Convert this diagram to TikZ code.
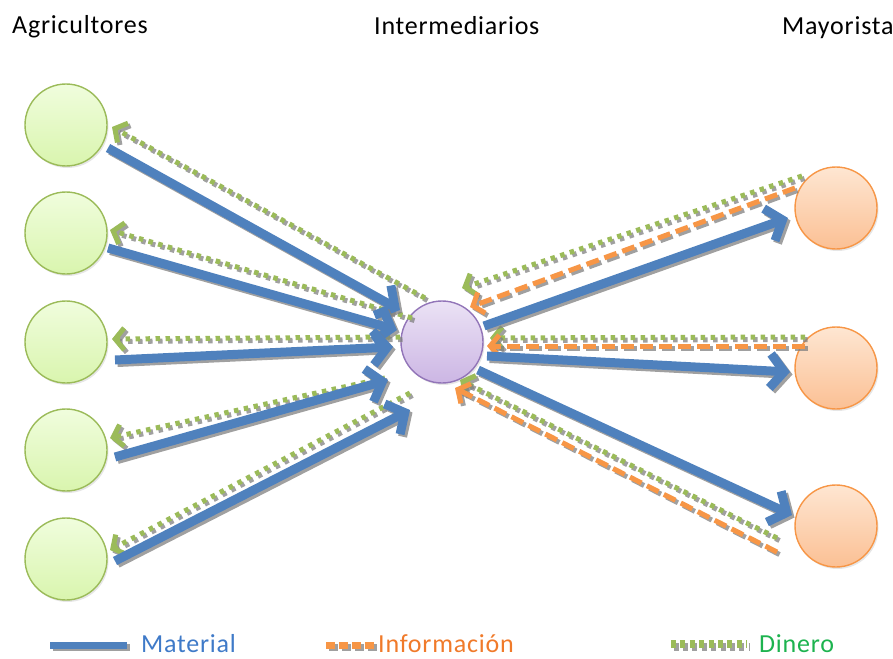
\documentclass[tikz,border=0pt]{standalone}
\usepackage{fontspec}
\setmainfont{Carlito}
\newfontfamily\labelfont{Carlito}[LetterSpace=3]
\usetikzlibrary{arrows.meta,calc,shadows}
\definecolor{matblue}{HTML}{4F81BD}
\definecolor{infoorange}{HTML}{F79646}
\definecolor{moneygreen}{HTML}{9BBB59}
\definecolor{moneytext}{HTML}{1DB34F}
\definecolor{infotext}{HTML}{F07A2A}
\definecolor{mattext}{HTML}{3F7AC8}
\definecolor{shadowgray}{HTML}{808080}
\definecolor{farmtop}{HTML}{F0FDDD}
\definecolor{farmbot}{HTML}{D9F5AE}
\definecolor{brokertop}{HTML}{EBE2F5}
\definecolor{brokerbot}{HTML}{CCB6E4}
\definecolor{brokerline}{HTML}{9275B8}
\definecolor{buyertop}{HTML}{FEE6D2}
\definecolor{buyerbot}{HTML}{FBC094}
% a flow line: grey offset copy first, then the coloured line
\newcommand\flowline[3]{%
  \begin{scope}[transform canvas={xshift=2.5pt,yshift=-2.5pt}]
    \draw[#1,draw=shadowgray,opacity=0.75] #2 -- #3;
  \end{scope}
  \draw[#1] #2 -- #3;}
\begin{document}
\begin{tikzpicture}[x=1pt,y=-1pt,
  lbl/.style={anchor=base west,inner sep=0pt,font=\labelfont\fontsize{26}{30}\selectfont},
  actor/.style={circle,minimum size=82pt,inner sep=0pt,line width=1.4pt,
    drop shadow={opacity=0.2,shadow xshift=1.5pt,shadow yshift=-2pt}},
  farmer/.style={actor,draw=moneygreen,top color=farmtop,bottom color=farmbot},
  broker/.style={actor,draw=brokerline,top color=brokertop,bottom color=brokerbot},
  buyer/.style={actor,draw=infoorange,top color=buyertop,bottom color=buyerbot},
  material/.style={draw=matblue,line width=9pt,
    -{Straight Barb[length=14pt,width=34pt]}},
  info/.style={draw=infoorange,line width=5pt,dash pattern=on 13pt off 6pt,
    -{Straight Barb[length=9pt,width=22pt]}},
  money/.style={draw=moneygreen,line width=5pt,dash pattern=on 4.5pt off 5.5pt,
    -{Straight Barb[length=9pt,width=22pt]}},
  legmaterial/.style={draw=matblue,line width=7pt},
  leginfo/.style={draw=infoorange,line width=7pt,dash pattern=on 9pt off 4pt},
  legmoney/.style={draw=moneygreen,line width=8pt,dash pattern=on 5pt off 4.4pt}
]
\useasboundingbox (0,0) rectangle (893,658);

% column headings
\node[lbl] (hA) at (12,34) {Agricultores};
\node[lbl] (hI) at (374,35) {Intermediarios};
\node[lbl] (hM) at (782,35) {Mayorista};

% actors
\node[farmer] (g1) at (66,125) {};
\node[farmer] (g2) at (66,233) {};
\node[farmer] (g3) at (66,342) {};
\node[farmer] (g4) at (66,450) {};
\node[farmer] (g5) at (66,559) {};
\node[broker] (m) at (442,342) {};
\node[buyer] (o1) at (836,208) {};
\node[buyer] (o2) at (836,368) {};
\node[buyer] (o3) at (836,526) {};

% money back to the farmers
\flowline{money}{($(m)+(-17,-44)$)}{($(g1)+(46,2)$)}
\flowline{money}{($(m)+(-30,-24)$)}{($(g2)+(44,-3)$)}
\flowline{money}{($(m)+(-42,-5)$)}{($(g3)+(46,-3)$)}
\flowline{money}{($(m)+(-57,36)$)}{($(g4)+(44,-12)$)}
\flowline{money}{($(m)+(-32,51)$)}{($(g5)+(44,-9)$)}

% goods from the farmers
\flowline{material}{($(g1)+(42,23)$)}{($(m)+(-42,-32)$)}
\flowline{material}{($(g2)+(42,15)$)}{($(m)+(-45,-12)$)}
\flowline{material}{($(g3)+(49,18)$)}{($(m)+(-49,5)$)}
\flowline{material}{($(g4)+(49,7)$)}{($(m)+(-54,38)$)}
\flowline{material}{($(g5)+(49,2)$)}{($(m)+(-32,68)$)}

% money and information back from the wholesalers
\flowline{money}{($(o1)+(-34,-32)$)}{($(m)+(20,-54)$)}
\flowline{info}{($(o1)+(-41,-20)$)}{($(m)+(28,-35)$)}
\flowline{money}{($(o2)+(-31,-31)$)}{($(m)+(48,-4)$)}
\flowline{info}{($(o2)+(-31,-22)$)}{($(m)+(45,4)$)}
\flowline{money}{($(o3)+(-59,12)$)}{($(m)+(18,38)$)}
\flowline{info}{($(o3)+(-59,26)$)}{($(m)+(13,46)$)}

% goods to the wholesalers
\flowline{material}{($(m)+(42,-16)$)}{($(o1)+(-48,10)$)}
\flowline{material}{($(m)+(45,14)$)}{($(o2)+(-46,4)$)}
\flowline{material}{($(m)+(36,28)$)}{($(o3)+(-44,-11)$)}

% legend
\coordinate (l1a) at (50,645); \coordinate (l1b) at (127,645);
\coordinate (l2a) at (326,645); \coordinate (l2b) at (375,645);
\coordinate (l3a) at (671,644); \coordinate (l3b) at (747,644);
\flowline{legmaterial}{(l1a)}{(l1b)}
\flowline{leginfo}{(l2a)}{(l2b)}
\flowline{legmoney}{(l3a)}{(l3b)}
\node[lbl,text=mattext] (t1) at (141,652) {Material};
\node[lbl,text=infotext] (t2) at (378,652) {Información};
\node[lbl,text=moneytext] (t3) at (759,652) {Dinero};
\end{tikzpicture}
\end{document}
